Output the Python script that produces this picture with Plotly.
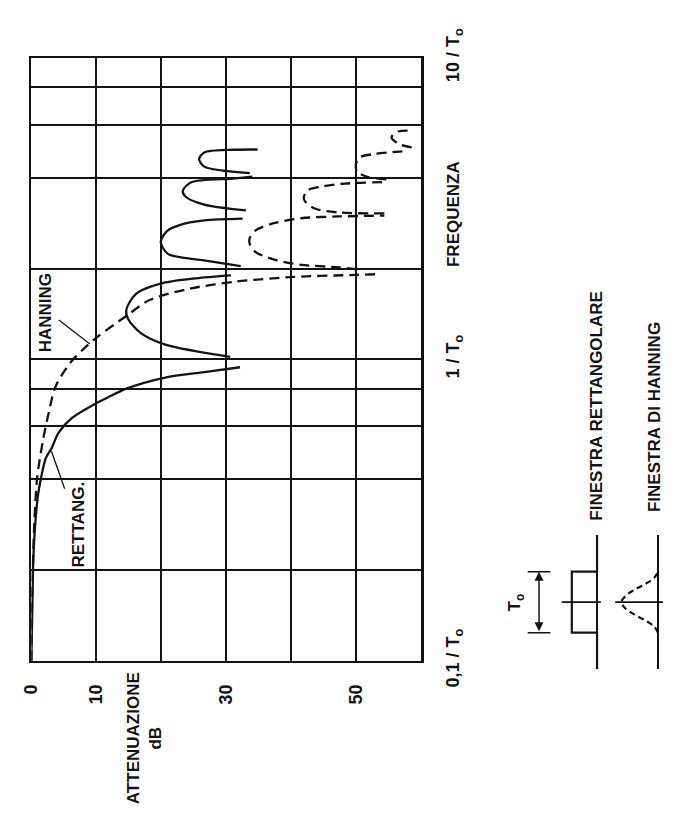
import plotly.graph_objects as go
import math

# ---------------- data ----------------
# Rectangular window (solid) : frequency in 1/T0, attenuation in dB
rect_main_f = [0.10, 0.150, 0.216, 0.285, 0.352, 0.406, 0.469, 0.507, 0.572, 0.641, 0.718, 0.745, 0.800, 0.871, 0.908, 0.942]
rect_main_db = [0.0, 0.15, 0.3, 0.6, 1.0, 1.5, 2.2, 3.1, 4.2, 6.3, 10.1, 11.6, 14.6, 20.6, 26.6, 32.1]
rect_l1_f = [1.02, 1.12, 1.22, 1.36, 1.46, 1.65, 1.80, 1.87, 1.90]
rect_l1_db = [30.6, 20.6, 16.9, 14.9, 14.6, 16.1, 20.6, 26.6, 30.7]
rect_l2_f = [2.04, 2.13, 2.24, 2.45, 2.67, 2.79, 2.89, 2.93]
rect_l2_db = [32.2, 26.6, 21.0, 19.9, 20.9, 22.8, 26.6, 32.5]
rect_l3_f = [3.12, 3.26, 3.47, 3.63, 3.87, 3.98, 4.04]
rect_l3_db = [33.0, 26.6, 23.7, 23.3, 24.6, 31.0, 34.0]
rect_l4_f = [4.15, 4.36, 4.62, 4.86, 4.96, 4.97]
rect_l4_db = [33.6, 26.6, 25.8, 26.6, 31.0, 34.8]

# Hanning window (dashed)
han_main_f = [0.10, 0.173, 0.285, 0.406, 0.541, 0.669, 0.811, 0.976, 1.077, 1.199, 1.393, 1.571, 1.711, 1.812, 1.878, 1.905, 1.918]
han_main_db = [0.0, 0.15, 0.45, 0.9, 1.8, 2.7, 3.7, 6.0, 7.9, 10.4, 14.6, 18.1, 24.0, 31.5, 40.4, 49.0, 53.4]
han_l1_f = [1.99, 2.02, 2.06, 2.13, 2.27, 2.41, 2.53, 2.68, 2.82, 2.94, 2.98, 3.00]
han_l1_db = [50.1, 47.3, 41.5, 37.8, 34.5, 33.6, 33.6, 34.5, 37.0, 41.5, 47.3, 54.3]
han_l2_f = [3.05, 3.07, 3.16, 3.32, 3.44, 3.64, 3.74, 3.83, 3.88]
han_l2_db = [54.3, 47.5, 43.7, 42.2, 41.9, 42.5, 44.5, 48.2, 54.6]
han_l3_f = [3.96, 4.02, 4.20, 4.41, 4.67, 4.80, 4.91]
han_l3_db = [54.6, 51.9, 50.1, 49.9, 50.4, 52.7, 57.9]
han_l4_f = [5.05, 5.20, 5.46, 5.70, 5.74]
han_l4_db = [58.5, 56.4, 55.4, 56.4, 58.8]

# axes ticks / labels
x_tickvals = [0, 10, 20, 30, 40, 50, 60]
x_ticktext = ["0", "10", " ", "30", " ", "50", " "]
y_tickvals = [0.1, 0.2, 0.4, 0.6, 0.8, 1, 2, 4, 6, 8, 10]
y_ticktext = ["0,1 / T<sub>o</sub>", " ", " ", " ", " ", "1 / T<sub>o</sub>", " ", " ", " ", " ", "10 / T<sub>o</sub>"]

# curve labels with leader lines: (dB, frequency)
hanning_label = (2.2, 1.43)
hanning_leader_tail = (4.0, 1.363)
hanning_leader_head = (9.0, 1.125)
rettang_label = (7.3, 0.283)
rettang_leader_tail = (5.2, 0.368)
rettang_leader_head = (3.1, 0.496)

# inset sketches (time in T0, amplitude in arbitrary units)
rect_win_t = [-1.1, -0.5, -0.5, 0.5, 0.5, 1.1]
rect_win_a = [0, 0, 1, 1, 0, 0]
han_win_t = [-0.5, -0.4, -0.3, -0.2, -0.1, 0.0, 0.1, 0.2, 0.3, 0.4, 0.5]
han_win_a = [0.0, 0.15, 0.5, 0.95, 1.3, 1.45, 1.3, 0.95, 0.5, 0.15, 0.0]
centre_line_rect_a = [-0.15, 1.4]
centre_line_han_a = [-0.2, 1.7]
dim_a = 2.3           # position of the T0 dimension line
dim_tick_a = [1.85, 2.75]

INK = "#141414"
FONT = "Liberation Sans, Arial, sans-serif"

fig = go.Figure()

solid = dict(color=INK, width=2.3, shape="spline", smoothing=0.8)
dashed = dict(color=INK, width=2.3, dash="10px,6px", shape="spline", smoothing=0.8)

for f, d in [(rect_main_f, rect_main_db), (rect_l1_f, rect_l1_db), (rect_l2_f, rect_l2_db),
             (rect_l3_f, rect_l3_db), (rect_l4_f, rect_l4_db)]:
    fig.add_trace(go.Scatter(x=d, y=f, mode="lines", line=solid, showlegend=False, hoverinfo="skip"))
for f, d in [(han_main_f, han_main_db), (han_l1_f, han_l1_db), (han_l2_f, han_l2_db),
             (han_l3_f, han_l3_db), (han_l4_f, han_l4_db)]:
    fig.add_trace(go.Scatter(x=d, y=f, mode="lines", line=dashed, showlegend=False, hoverinfo="skip"))

# ---- inset: rectangular window (x2/y2) ----
fig.add_trace(go.Scatter(x=rect_win_a, y=rect_win_t, mode="lines", xaxis="x2", yaxis="y2",
                         line=dict(color=INK, width=2.2), showlegend=False, hoverinfo="skip"))
fig.add_trace(go.Scatter(x=centre_line_rect_a, y=[0, 0], mode="lines", xaxis="x2", yaxis="y2",
                         line=dict(color=INK, width=1.8), showlegend=False, hoverinfo="skip"))
for tt in (-0.5, 0.5):
    fig.add_trace(go.Scatter(x=dim_tick_a, y=[tt, tt], mode="lines", xaxis="x2", yaxis="y2",
                             line=dict(color=INK, width=1.5), showlegend=False, hoverinfo="skip"))
# ---- inset: Hanning window (x3/y3) ----
fig.add_trace(go.Scatter(x=han_win_a, y=han_win_t, mode="lines", xaxis="x3", yaxis="y3",
                         line=dict(color=INK, width=2.2, dash="6px,4px", shape="spline"),
                         showlegend=False, hoverinfo="skip"))
fig.add_trace(go.Scatter(x=centre_line_han_a, y=[0, 0], mode="lines", xaxis="x3", yaxis="y3",
                         line=dict(color=INK, width=1.8), showlegend=False, hoverinfo="skip"))

W, H = 674, 837
px = lambda v: v / W
py = lambda v: 1 - v / H

tickfont = dict(family=FONT, size=18, color=INK, weight="bold")
inset_axis = dict(visible=True, showgrid=False, showticklabels=False, ticks="", showline=False,
                  zeroline=True, zerolinecolor=INK, zerolinewidth=2.2)

fig.update_layout(
    width=W, height=H,
    margin=dict(l=0, r=0, t=0, b=0),
    paper_bgcolor="white", plot_bgcolor="rgba(0,0,0,0)",
    hovermode=False,
    xaxis=dict(domain=[px(22), px(424)], range=[0, 60], tickvals=x_tickvals, ticktext=x_ticktext,
               tickangle=-90, ticks="", ticklabelstandoff=14, tickfont=tickfont,
               ticklabeloverflow="allow",
               showgrid=True, gridcolor=INK, gridwidth=2, zeroline=False,
               showline=True, linecolor=INK, linewidth=2.4, mirror=True, anchor="y"),
    yaxis=dict(domain=[py(677), py(30)], type="log", range=[-1, 1], side="right",
               tickvals=y_tickvals, ticktext=y_ticktext, tickangle=-90, ticks="",
               ticklabelstandoff=14, tickfont=tickfont, ticklabeloverflow="allow",
               showgrid=True, gridcolor=INK, gridwidth=2, zeroline=False,
               showline=True, linecolor=INK, linewidth=2.4, mirror=True, anchor="x"),
    xaxis2=dict(domain=[px(501), px(618)], range=[4.0, -0.5], anchor="y2", **inset_axis),
    yaxis2=dict(domain=[py(686), py(542)], range=[-1.1, 1.1], visible=False, anchor="x2"),
    xaxis3=dict(domain=[px(564), px(673)], range=[4.0, -0.2], anchor="y3", **inset_axis),
    yaxis3=dict(domain=[py(686), py(542)], range=[-1.1, 1.1], visible=False, anchor="x3"),
)

ann_font = dict(family=FONT, size=17, color=INK, weight="bold")
C = dict(xanchor="center", yanchor="middle", showarrow=False, textangle=-90, font=ann_font)
annotations = [
    dict(text="HANNING", x=hanning_label[0], y=math.log10(hanning_label[1]), xref="x", yref="y", **C),
    dict(text="RETTANG.", x=rettang_label[0], y=math.log10(rettang_label[1]), xref="x", yref="y", **C),
    dict(text="", x=hanning_leader_head[0], y=math.log10(hanning_leader_head[1]),
         ax=hanning_leader_tail[0], ay=math.log10(hanning_leader_tail[1]),
         xref="x", yref="y", axref="x", ayref="y", showarrow=True, arrowhead=0,
         arrowwidth=1.3, arrowcolor=INK),
    dict(text="", x=rettang_leader_head[0], y=math.log10(rettang_leader_head[1]),
         ax=rettang_leader_tail[0], ay=math.log10(rettang_leader_tail[1]),
         xref="x", yref="y", axref="x", ayref="y", showarrow=True, arrowhead=0,
         arrowwidth=1.3, arrowcolor=INK),
    dict(text="FREQUENZA", x=px(457), y=py(197), xref="paper", yref="paper", **C),
    dict(text="ATTENUAZIONE<br>dB", x=px(138), y=py(760), xref="paper", yref="paper", **C),
    dict(text="FINESTRA RETTANGOLARE", x=px(604), y=py(403), xref="paper", yref="paper", **C),
    dict(text="FINESTRA DI HANNING", x=px(664), y=py(415), xref="paper", yref="paper", **C),
    # T0 dimension arrow in the rectangular-window sketch
    dict(text="", x=dim_a, y=0.5, ax=dim_a, ay=-0.5, xref="x2", yref="y2", axref="x2", ayref="y2",
         showarrow=True, arrowhead=2, arrowside="end+start", arrowsize=1.2, arrowwidth=1.5,
         arrowcolor=INK),
    dict(text="T<sub>o</sub>", x=3.2, y=0, xref="x2", yref="y2", **C),
]
fig.update_layout(annotations=annotations)

# remove the default 8px page margin so the figure fills the 674x837 window exactly
fig.write_html("out.html", config={"displayModeBar": False, "staticPlot": True},
               post_script="document.body.style.margin='0';document.body.style.overflow='hidden';")
